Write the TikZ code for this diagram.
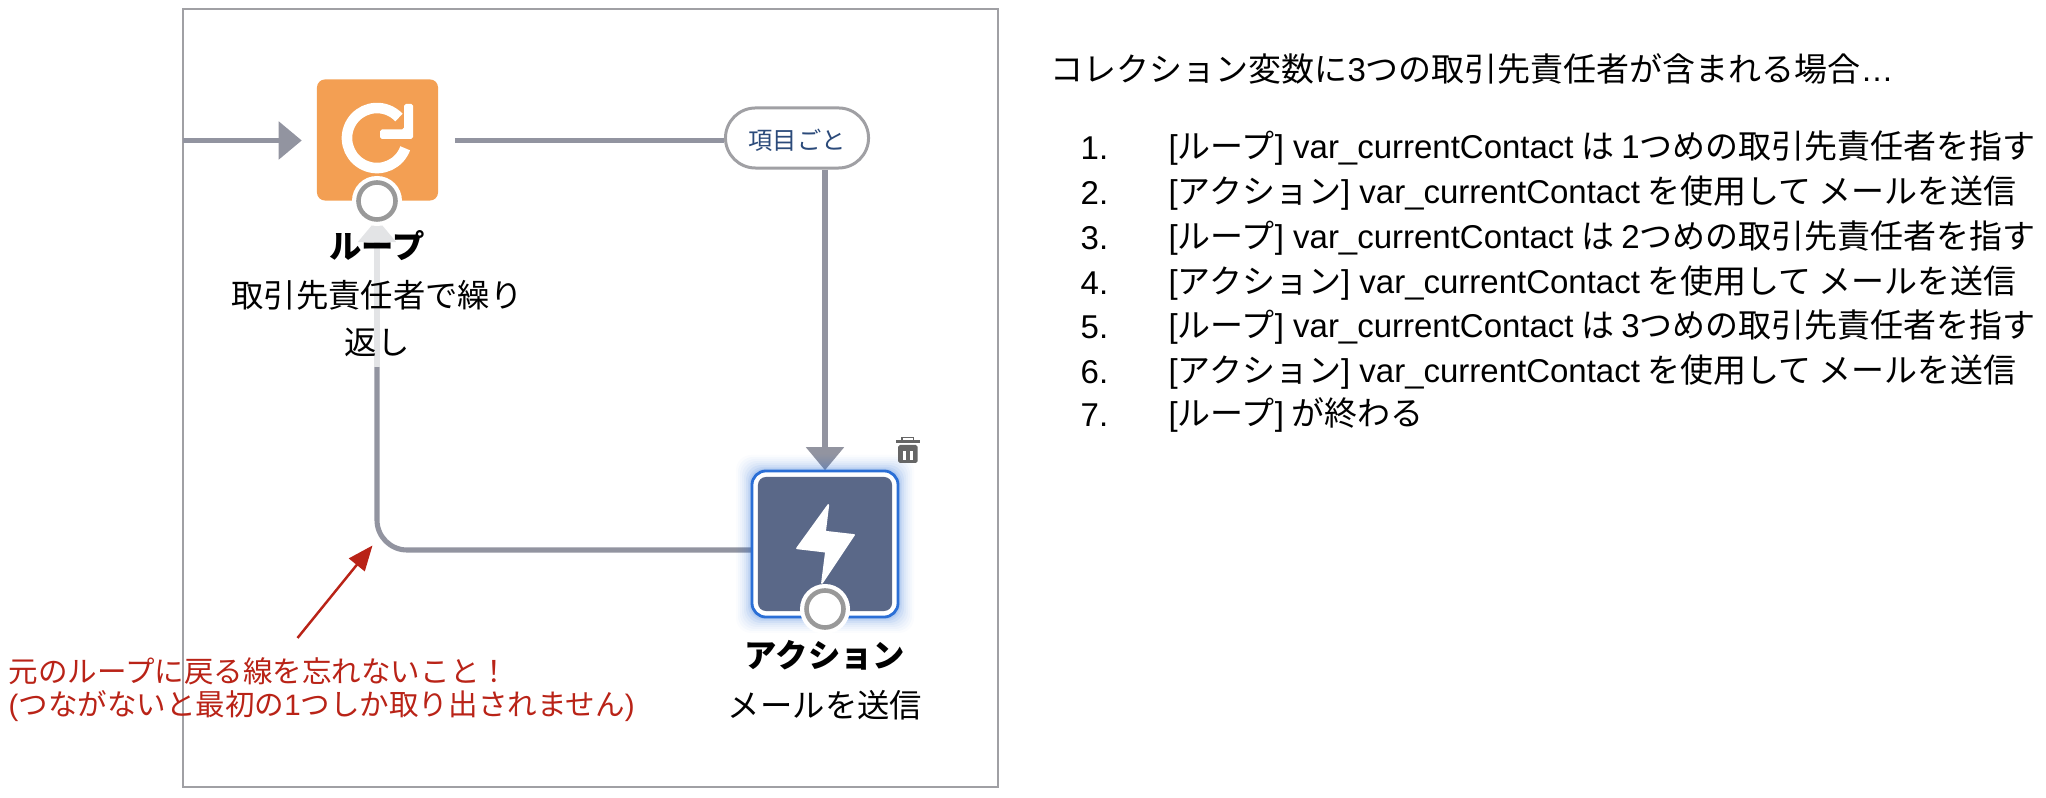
\documentclass[tikz,border=0pt]{standalone}
\usepackage{fontspec}
\setmainfont{Noto Sans CJK JP}
\newfontfamily\lsans{Liberation Sans}
\usetikzlibrary{arrows.meta, positioning, calc}
\definecolor{flowgrey}{HTML}{9294A0}
\definecolor{fadegrey}{HTML}{E3E4E6}
\definecolor{framegrey}{HTML}{A0A0A4}
\definecolor{portgrey}{HTML}{999999}
\definecolor{loopcol}{HTML}{F39F53}
\definecolor{actioncol}{HTML}{5A6888}
\definecolor{glowblue}{HTML}{2B6FD6}
\definecolor{pilltext}{HTML}{2B4A7A}
\definecolor{notered}{HTML}{B92317}
\newcommand{\lat}[1]{{\lsans #1}}
\tikzset{
    flowline/.style={draw=flowgrey, line width=1.45pt},
    flowtip/.style={-{Triangle[length=.23cm,width=.37cm]}},
    loopbox/.style={fill=loopcol, rounded corners=.08cm, minimum size=1.21cm, inner sep=0pt},
    actionslot/.style={minimum size=1.46cm, inner sep=0pt},
    actionbox/.style={actionslot, fill=white, draw=glowblue, line width=.8pt, rounded corners=.14cm},
    actioninner/.style={fill=actioncol, rounded corners=.08cm, minimum size=1.34cm, inner sep=0pt},
    porthalo/.style={circle, fill=white, minimum size=.5cm, inner sep=0pt},
    portring/.style={circle, fill=white, draw=portgrey, line width=1.3pt, minimum size=.37cm, inner sep=0pt},
    pillbox/.style={draw=framegrey, line width=.85pt, fill=white, rounded corners=.3cm, minimum width=1.43cm, minimum height=.6cm, inner sep=0pt, text=pilltext, font=\fontsize{6.9}{8}\selectfont},
    bigtext/.style={font=\fontsize{9.2}{11}\selectfont, inner sep=0pt},
    listtext/.style={font=\fontsize{9.38}{11}\selectfont, inner sep=0pt, anchor=west},
    notetext/.style={font=\fontsize{8.4}{10}\selectfont, text=notered, inner sep=0pt, anchor=west},
}

\begin{document}
\begin{tikzpicture}[x=0.01cm, y=-0.01cm]
\useasboundingbox (0,0) rectangle (2046,798);

% Frame round the flow
\draw[framegrey, line width=.75pt] (183,9) rectangle (998,787);

% Flow nodes
\node[loopbox] (loop) at (377.5,140) {};
\node[actionslot] (action) at (825,544) {};
\node[pillbox] (pill) at (797,138) {\raisebox{-3.25pt}[0pt][0pt]{項目ごと}};
\coordinate (inflow) at (183,140.5);
\coordinate (backcorner) at (377,550);
\coordinate (fadestart) at (377,367);
\coordinate (loopin) at (377,219);

% Connectors
\draw[flowline, flowtip, shorten >=.145cm] (inflow) -- (inflow -| loop.west);
\draw[flowline, shorten <=.16cm] (inflow -| loop.east) -- (inflow -| pill.west);
\draw[flowline, flowtip] (action.north |- pill.south) -- (action.north);
\draw[flowline, rounded corners=.3cm] (action.west |- backcorner) -- (backcorner) -- (fadestart);
\draw[flowline, flowtip, draw=fadegrey] (fadestart) -- (loopin);

% Glow of the selected action
\foreach \g/\o in {30/.02, 26/.03, 22/.03, 18/.04, 14/.05, 10/.07, 6/.08, 3/.1} {
    \fill[glowblue, opacity=\o, rounded corners=.15cm] (751-\g*.5,470-\g*.5) rectangle (899+\g*.5,618+\g*.5);
}
\node[actionbox] (actionout) at (action) {};
\node[actioninner] (actionin) at (action) {};

% Ports
\node[porthalo] (loophalo) at (377,201) {};
\node[portring] (loopport) at (377,201) {};
\node[porthalo] (actionhalo) at (825,609) {};
\node[portring] (actionport) at (825,609) {};

% Loop icon
\draw[white, line width=3pt] (405.2,148.3) arc[start angle=-20, end angle=-317, radius=.3cm];
\fill[white, rounded corners=.5pt] (380,129.5) -- (404,129.5) -- (404,104) -- (413,104) -- (413,139) -- (380,139) -- cycle;

% Action icon
\fill[white, line join=round, draw=white, line width=.5pt] (828.3,505) -- (797,548.3) -- (826,551.7) -- (822,583) -- (854,535) -- (825,531.7) -- cycle;

% Trash icon
\fill[black!60] (895.7,440.5) rectangle (920,443.5);
\draw[black!60, line width=.5pt] (902,441) -- (902,437.5) -- (913.5,437.5) -- (913.5,441);
\fill[black!60, rounded corners=.5pt] (898,445) rectangle (917.7,463);
\fill[white] (902.5,451) rectangle (906,460);
\fill[white] (909.5,451) rectangle (913,460);

% Flow labels
\node[bigtext, font=\fontsize{9.2}{11}\selectfont\bfseries] (looptitle) at (377,246) {ループ};
\node[bigtext] (looptext) at (377,295) {取引先責任者で繰り};
\node[bigtext] (looptextb) at (377,342) {返し};
\node[bigtext, font=\fontsize{9.2}{11}\selectfont\bfseries] (actiontitle) at (825,655) {アクション};
\node[bigtext] (actiontext) at (825,705) {メールを送信};

% Note in red
\node[notetext] (notea) at (8,671) {元のループに戻る線を忘れないこと！};
\node[notetext] (noteb) at (8,706.5) {\lat{(}つながないと最初の\lat{1}つしか取り出されません\lat{)}};
\coordinate (notetail) at (297.5,638);
\coordinate (notetip) at (372.5,545.5);
\draw[notered, line width=.7pt, -{Triangle[length=.25cm,width=.2cm]}] (notetail) -- (notetip);

% List on the right
\node[listtext] (listhead) at (1050,68.5) {コレクション変数に\lat{3}つの取引先責任者が含まれる場合\lat{…}};
\foreach \n/\y/\t in {
    1/148/{\lat{[}ループ\lat{] var\_currentContact} は \lat{1}つめの取引先責任者を指す},
    2/193/{\lat{[}アクション\lat{] var\_currentContact} を使用して メールを送信},
    3/238/{\lat{[}ループ\lat{] var\_currentContact} は \lat{2}つめの取引先責任者を指す},
    4/283/{\lat{[}アクション\lat{] var\_currentContact} を使用して メールを送信},
    5/327/{\lat{[}ループ\lat{] var\_currentContact} は \lat{3}つめの取引先責任者を指す},
    6/372/{\lat{[}アクション\lat{] var\_currentContact} を使用して メールを送信},
    7/415/{\lat{[}ループ\lat{]} が終わる}} {
    \node[listtext] (num\n) at (1080,\y) {\lat{\n.}};
    \node[listtext] (item\n) at (1168,\y) {\t};
}
\end{tikzpicture}
\end{document}
